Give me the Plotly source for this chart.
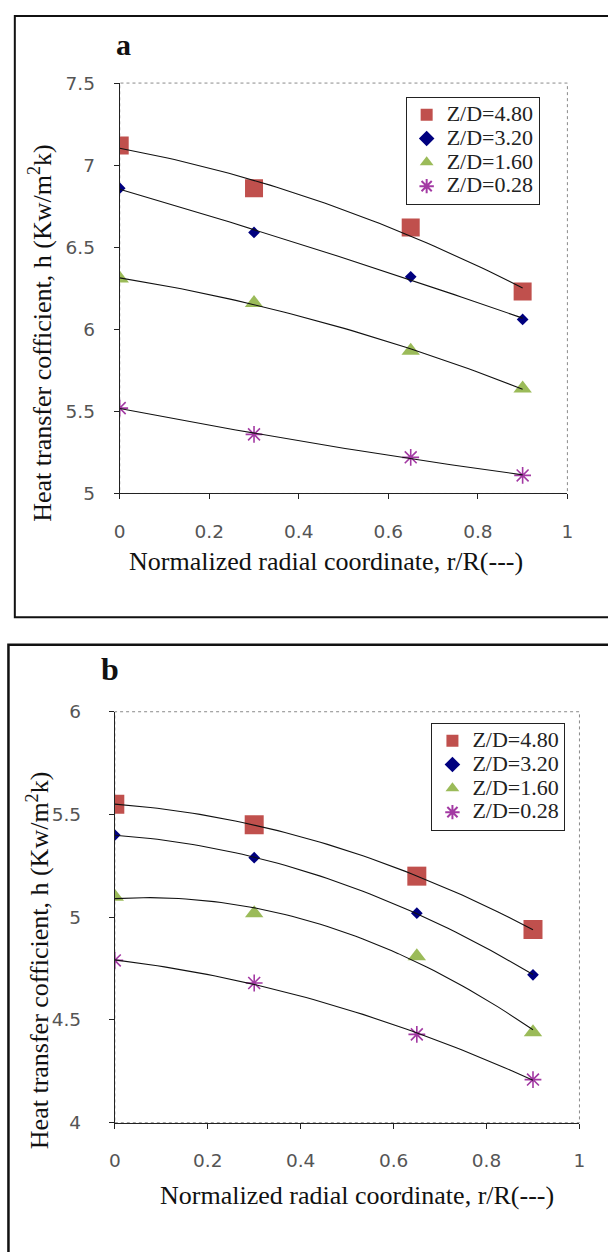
import numpy as np
import plotly.graph_objects as go

# ---------------- data ----------------
r_positions = [0.0, 0.3, 0.65, 0.9]
series_labels = ["Z/D=4.80", "Z/D=3.20", "Z/D=1.60", "Z/D=0.28"]

a_zd480 = [7.12, 6.86, 6.62, 6.23]
a_zd320 = [6.86, 6.59, 6.32, 6.06]
a_zd160 = [6.31, 6.16, 5.87, 5.64]
a_zd028 = [5.52, 5.36, 5.22, 5.11]

b_zd480 = [5.55, 5.45, 5.20, 4.94]
b_zd320 = [5.40, 5.29, 5.02, 4.72]
b_zd160 = [5.10, 5.02, 4.81, 4.44]
b_zd028 = [4.79, 4.68, 4.43, 4.21]

x_tick_vals = [0, 0.2, 0.4, 0.6, 0.8, 1]
x_tick_text = ["0", "0.2", "0.4", "0.6", "0.8", "1"]
a_y_tick_vals = [5, 5.5, 6, 6.5, 7, 7.5]
a_y_tick_text = ["5", "5.5", "6", "6.5", "7", "7.5"]
b_y_tick_vals = [4, 4.5, 5, 5.5, 6]
b_y_tick_text = ["4", "4.5", "5", "5.5", "6"]

x_title = "Normalized radial coordinate, r/R(---)"
y_title = "Heat transfer cofficient, h (Kw/m<sup>2</sup>k)"

# ---------------- styles ----------------
W, H = 608, 1252
styles = [
    dict(symbol="square", color="#C0504D", size_a=18, size_b=19),
    dict(symbol="diamond", color="#00007F", size_a=9, size_b=9),
    dict(symbol="triangle-up", color="#9BBB59", size_a=16, size_b=16),
    dict(symbol="asterisk-open", color="#A33AA3", size_a=14, size_b=14),
]
SERIF = "Liberation Serif, Times New Roman, serif"
SANS = "DejaVu Sans, Arial, sans-serif"


def px_x(p):
    return p / W


def px_y(p):
    return 1 - p / H


fig = go.Figure()


def legend_label(lab):
    return ('<span style="font-family:\'Liberation Serif\', \'Times New Roman\', serif;'
            'font-size:22px">' + lab + '</span>')


def add_panel(series, xa, ya, legend_name, size_key):
    for lab, vals, st in zip(series_labels, series, styles):
        fig.add_trace(go.Scatter(
            x=r_positions, y=vals, mode="markers", name=legend_label(lab),
            xaxis=xa, yaxis=ya, legend=legend_name,
            marker=dict(symbol=st["symbol"], color=st["color"], size=st[size_key],
                        line=dict(color=st["color"], width=1.6 if "open" in st["symbol"] else 0)),
        ))
    for vals in series:
        coef = np.polyfit(r_positions, vals, 2)
        xs = np.linspace(min(r_positions), max(r_positions), 60)
        fig.add_trace(go.Scatter(
            x=xs, y=np.polyval(coef, xs), mode="lines", showlegend=False,
            xaxis=xa, yaxis=ya, line=dict(color="#111111", width=1.1), hoverinfo="skip",
        ))


add_panel([a_zd480, a_zd320, a_zd160, a_zd028], "x", "y", "legend", "size_a")
add_panel([b_zd480, b_zd320, b_zd160, b_zd028], "x2", "y2", "legend2", "size_b")

axis_common = dict(showgrid=False, zeroline=False, showline=True, linecolor="#222222",
                   linewidth=1, ticks="outside", ticklen=5, tickcolor="#222222",
                   tickfont=dict(family=SANS, size=18.5, color="#555555"))

a_left, a_right, a_top, a_bottom = 116, 572.7, 73.3, 490.7
b_left, b_right, b_top, b_bottom = 111, 585, 712.7, 1130.7

legend_common = dict(xanchor="left", yanchor="top", bgcolor="white", bordercolor="#222222",
                     borderwidth=1, font=dict(family=SERIF, size=16, color="#222222"),
                     itemsizing="constant", tracegroupgap=0)

fig.update_layout(
    width=W, height=H, margin=dict(l=0, r=0, t=0, b=0),
    paper_bgcolor="white", plot_bgcolor="white",
    xaxis=dict(domain=[px_x(a_left), px_x(a_right)], range=[0, 1], anchor="y",
               tickvals=x_tick_vals, ticktext=x_tick_text, ticklabelstandoff=16, **axis_common),
    yaxis=dict(domain=[px_y(a_bottom), px_y(a_top)], range=[5, 7.5], anchor="x",
               tickvals=a_y_tick_vals, ticktext=a_y_tick_text, ticklabelstandoff=15, **axis_common),
    xaxis2=dict(domain=[px_x(b_left), px_x(b_right)], range=[0, 1], anchor="y2",
                tickvals=x_tick_vals, ticktext=x_tick_text, ticklabelstandoff=16, **axis_common),
    yaxis2=dict(domain=[px_y(b_bottom), px_y(b_top)], range=[4, 6], anchor="x2",
                tickvals=b_y_tick_vals, ticktext=b_y_tick_text, ticklabelstandoff=24, **axis_common),
    legend=dict(x=px_x(407.7), y=px_y(87.3), **legend_common),
    legend2=dict(x=px_x(434), y=px_y(724), **legend_common),
    showlegend=True,
    hovermode=False,
)

shapes = []
for (l, r, t, b) in [(a_left, a_right, a_top, a_bottom), (b_left, b_right, b_top, b_bottom)]:
    shapes.append(dict(type="rect", xref="paper", yref="paper", x0=px_x(l), x1=px_x(r),
                       y0=px_y(b), y1=px_y(t), line=dict(color="#8a8a8a", width=1, dash="dot"),
                       layer="below"))
shapes.append(dict(type="rect", xref="paper", yref="paper", x0=px_x(9), x1=px_x(W + 20),
                   y0=px_y(616.5), y1=px_y(5), line=dict(color="#111111", width=2)))
shapes.append(dict(type="rect", xref="paper", yref="paper", x0=px_x(2.5), x1=px_x(W + 20),
                   y0=px_y(H + 20), y1=px_y(644.5), line=dict(color="#111111", width=2.5)))

annotations = [
    dict(text="<b>a</b>", x=px_x(120), y=px_y(34), xref="paper", yref="paper", showarrow=False,
         font=dict(family=SERIF, size=30, color="#111111"), xanchor="center", yanchor="middle"),
    dict(text="<b>b</b>", x=px_x(106.5), y=px_y(669), xref="paper", yref="paper", showarrow=False,
         font=dict(family=SERIF, size=32, color="#111111"), xanchor="center", yanchor="middle"),
    dict(text=x_title, x=px_x(326.5), y=px_y(560), xref="paper", yref="paper", showarrow=False,
         font=dict(family=SERIF, size=26, color="#111111"), xanchor="center", yanchor="middle"),
    dict(text=x_title, x=px_x(358.5), y=px_y(1205), xref="paper", yref="paper", showarrow=False,
         font=dict(family=SERIF, size=26, color="#111111"), xanchor="center", yanchor="middle"),
    dict(text=y_title, x=px_x(35), y=px_y(327), xref="paper", yref="paper", showarrow=False,
         textangle=-90, font=dict(family=SERIF, size=26, color="#111111"),
         xanchor="center", yanchor="middle"),
    dict(text=y_title, x=px_x(33), y=px_y(965), xref="paper", yref="paper", showarrow=False,
         textangle=-90, font=dict(family=SERIF, size=26, color="#111111"),
         xanchor="center", yanchor="middle"),
]

fig.update_layout(shapes=shapes, annotations=annotations)
fig.write_html("out.html", config={"displayModeBar": False, "staticPlot": True},
               post_script="document.body.style.margin='0';document.body.style.overflow='hidden';")
